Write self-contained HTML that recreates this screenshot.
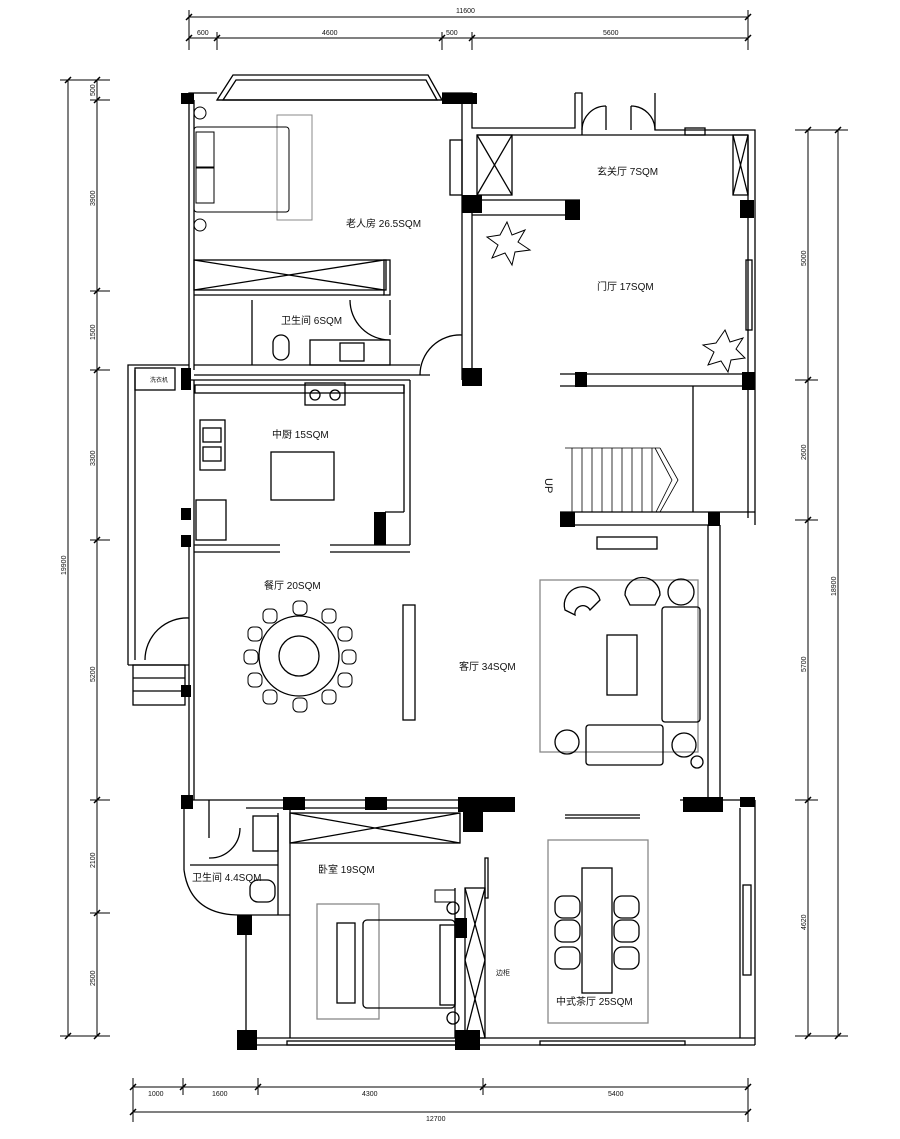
<!DOCTYPE html><html><head><meta charset="utf-8"><style>
html,body{margin:0;padding:0;background:#fff}
svg{display:block}
text{font-family:"Liberation Sans","Noto Sans CJK SC",sans-serif;fill:#111}
.d{font-size:7px}
.l{font-size:10px}
</style></head><body>
<svg width="900" height="1139" viewBox="0 0 900 1139" xmlns="http://www.w3.org/2000/svg">
<g stroke="#000" stroke-width="1" fill="none">
<!-- top dims -->
<line x1="189" y1="17" x2="748" y2="17"/>
<line x1="189" y1="38" x2="748" y2="38"/>
<g stroke-width="1.5"><line x1="186" y1="20" x2="192" y2="14"/><line x1="745" y1="20" x2="751" y2="14"/>
<line x1="186" y1="41" x2="192" y2="35"/><line x1="214" y1="41" x2="220" y2="35"/><line x1="439" y1="41" x2="445" y2="35"/><line x1="469" y1="41" x2="475" y2="35"/><line x1="745" y1="41" x2="751" y2="35"/></g>
<line x1="189" y1="10" x2="189" y2="50"/><line x1="748" y1="10" x2="748" y2="50"/><line x1="217" y1="32" x2="217" y2="50"/><line x1="442" y1="32" x2="442" y2="50"/><line x1="472" y1="32" x2="472" y2="50"/>
<!-- left dims -->
<line x1="68" y1="80" x2="68" y2="1036"/>
<line x1="97" y1="80" x2="97" y2="1036"/>
<g stroke-width="1.5"><line x1="65" y1="83" x2="71" y2="77"/><line x1="65" y1="1039" x2="71" y2="1033"/>
<line x1="94" y1="83" x2="100" y2="77"/><line x1="94" y1="103" x2="100" y2="97"/><line x1="94" y1="294" x2="100" y2="288"/><line x1="94" y1="373" x2="100" y2="367"/><line x1="94" y1="543" x2="100" y2="537"/><line x1="94" y1="803" x2="100" y2="797"/><line x1="94" y1="916" x2="100" y2="910"/><line x1="94" y1="1039" x2="100" y2="1033"/></g>
<g><line x1="60" y1="80" x2="110" y2="80"/><line x1="60" y1="1036" x2="110" y2="1036"/><line x1="90" y1="100" x2="110" y2="100"/><line x1="90" y1="291" x2="110" y2="291"/><line x1="90" y1="370" x2="110" y2="370"/><line x1="90" y1="540" x2="110" y2="540"/><line x1="90" y1="800" x2="110" y2="800"/><line x1="90" y1="913" x2="110" y2="913"/></g>
<!-- right dims -->
<line x1="838" y1="130" x2="838" y2="1036"/>
<line x1="808" y1="130" x2="808" y2="1036"/>
<g stroke-width="1.5"><line x1="835" y1="133" x2="841" y2="127"/><line x1="835" y1="1039" x2="841" y2="1033"/>
<line x1="805" y1="133" x2="811" y2="127"/><line x1="805" y1="383" x2="811" y2="377"/><line x1="805" y1="523" x2="811" y2="517"/><line x1="805" y1="803" x2="811" y2="797"/><line x1="805" y1="1039" x2="811" y2="1033"/></g>
<g><line x1="795" y1="130" x2="848" y2="130"/><line x1="795" y1="1036" x2="848" y2="1036"/><line x1="795" y1="380" x2="818" y2="380"/><line x1="795" y1="520" x2="818" y2="520"/><line x1="795" y1="800" x2="818" y2="800"/></g>
<!-- bottom dims -->
<line x1="133" y1="1087" x2="748" y2="1087"/>
<line x1="133" y1="1112" x2="748" y2="1112"/>
<g stroke-width="1.5"><line x1="130" y1="1090" x2="136" y2="1084"/><line x1="180" y1="1090" x2="186" y2="1084"/><line x1="255" y1="1090" x2="261" y2="1084"/><line x1="480" y1="1090" x2="486" y2="1084"/><line x1="745" y1="1090" x2="751" y2="1084"/><line x1="130" y1="1115" x2="136" y2="1109"/><line x1="745" y1="1115" x2="751" y2="1109"/></g>
<g><line x1="133" y1="1078" x2="133" y2="1122"/><line x1="748" y1="1078" x2="748" y2="1122"/><line x1="183" y1="1078" x2="183" y2="1095"/><line x1="258" y1="1078" x2="258" y2="1095"/><line x1="483" y1="1078" x2="483" y2="1095"/></g>
</g>
<g class="d">
<text x="456" y="13">11600</text>
<text x="197" y="35">600</text><text x="322" y="35">4600</text><text x="446" y="35">500</text><text x="603" y="35">5600</text>
<text x="148" y="1096">1000</text><text x="212" y="1096">1600</text><text x="362" y="1096">4300</text><text x="608" y="1096">5400</text>
<text x="426" y="1121">12700</text>
<text transform="translate(66,575) rotate(-90)">19900</text>
<text transform="translate(95,96) rotate(-90)">500</text>
<text transform="translate(95,206) rotate(-90)">3900</text>
<text transform="translate(95,340) rotate(-90)">1500</text>
<text transform="translate(95,466) rotate(-90)">3300</text>
<text transform="translate(95,682) rotate(-90)">5200</text>
<text transform="translate(95,868) rotate(-90)">2100</text>
<text transform="translate(95,986) rotate(-90)">2500</text>
<text transform="translate(836,596) rotate(-90)">18900</text>
<text transform="translate(806,266) rotate(-90)">5000</text>
<text transform="translate(806,460) rotate(-90)">2600</text>
<text transform="translate(806,672) rotate(-90)">5700</text>
<text transform="translate(806,930) rotate(-90)">4620</text>
</g>

<!-- WALLS -->
<g stroke="#000" stroke-width="1.3" fill="none">
<!-- top bedroom -->
<polyline points="189,370 189,93 217,93"/><line x1="194" y1="100" x2="194" y2="370"/>
<polygon points="217,100 233,75 428,75 442,100"/><polygon points="223,100 236,80 426,80 437,100"/>
<line x1="217" y1="100" x2="442" y2="100"/>
<polyline points="442,93 472,93 472,128 575,128 575,93"/>
<line x1="462" y1="100" x2="462" y2="380"/><line x1="472" y1="200" x2="472" y2="380"/>
<rect x="450" y="140" width="12" height="55"/>
<rect x="194" y="260" width="192" height="30"/><line x1="194" y1="260" x2="384" y2="290"/><line x1="194" y1="290" x2="384" y2="260"/>
<rect x="384" y="260" width="6" height="35"/>
<line x1="194" y1="295" x2="384" y2="295"/>
<line x1="252" y1="300" x2="252" y2="365"/><line x1="390" y1="300" x2="390" y2="335"/>
<path d="M350,300 A40,40 0 0 0 390,340"/>
<rect x="310" y="340" width="80" height="25"/>
<rect x="340" y="343" width="24" height="18"/>
<rect x="273" y="335" width="16" height="25" rx="8"/>
<line x1="194" y1="365" x2="420" y2="365"/><line x1="194" y1="375" x2="430" y2="375"/>
<path d="M420,375 A40,40 0 0 1 462,335"/>
<!-- entrance -->
<polyline points="575,93 582,93 582,135"/>
<path d="M582,130 A24,24 0 0 1 606,106"/><path d="M655,130 A24,24 0 0 0 631,106"/>
<line x1="606" y1="106" x2="606" y2="130"/><line x1="631" y1="106" x2="631" y2="130"/>
<polyline points="655,93 655,130 755,130 755,525"/><line x1="748" y1="135" x2="748" y2="518"/>
<line x1="477" y1="135" x2="748" y2="135"/>
<rect x="477" y="135" width="35" height="60"/><line x1="477" y1="135" x2="512" y2="195"/><line x1="512" y1="135" x2="477" y2="195"/>
<rect x="733" y="135" width="15" height="60"/><line x1="733" y1="135" x2="748" y2="195"/><line x1="748" y1="135" x2="733" y2="195"/>
<rect x="685" y="128" width="20" height="7"/>
<line x1="472" y1="200" x2="580" y2="200"/><line x1="472" y1="215" x2="580" y2="215"/>
<rect x="746" y="260" width="6" height="70"/>
<line x1="560" y1="374" x2="755" y2="374"/><line x1="560" y1="386" x2="755" y2="386"/>
<!-- stair -->
<line x1="693" y1="386" x2="693" y2="512"/>
<line x1="560" y1="512" x2="755" y2="512"/><line x1="575" y1="525" x2="715" y2="525"/>
<g stroke-width="0.8">
<line x1="565" y1="448" x2="660" y2="448"/>
<line x1="572" y1="448" x2="572" y2="512"/><line x1="582" y1="448" x2="582" y2="512"/><line x1="592" y1="448" x2="592" y2="512"/><line x1="602" y1="448" x2="602" y2="512"/><line x1="612" y1="448" x2="612" y2="512"/><line x1="622" y1="448" x2="622" y2="512"/><line x1="632" y1="448" x2="632" y2="512"/><line x1="642" y1="448" x2="642" y2="512"/><line x1="652" y1="448" x2="652" y2="512"/>
<polyline points="660,448 678,480 660,512"/><polyline points="655,448 672,480 656,512"/>
</g>
<!-- living right wall -->
<line x1="708" y1="525" x2="708" y2="800"/><line x1="720" y1="525" x2="720" y2="800"/>
<!-- kitchen -->
<line x1="189" y1="380" x2="410" y2="380"/>
<line x1="410" y1="380" x2="410" y2="545"/><line x1="404" y1="385" x2="404" y2="512"/>
<rect x="195" y="385" width="209" height="8"/>
<rect x="305" y="383" width="40" height="22"/>
<circle cx="315" cy="395" r="5"/><circle cx="335" cy="395" r="5"/>
<rect x="200" y="420" width="25" height="50"/><rect x="203" y="428" width="18" height="14"/><rect x="203" y="447" width="18" height="14"/>
<rect x="271" y="452" width="63" height="48"/>
<rect x="196" y="500" width="30" height="40"/>
<line x1="385" y1="512" x2="404" y2="512"/>
<line x1="194" y1="545" x2="280" y2="545"/><line x1="194" y1="552" x2="280" y2="552"/>
<line x1="330" y1="545" x2="410" y2="545"/><line x1="330" y1="552" x2="410" y2="552"/>
<line x1="194" y1="380" x2="194" y2="800"/><line x1="189" y1="540" x2="189" y2="800"/>
<!-- left corridor -->
<polyline points="189,365 128,365 128,665"/><line x1="135" y1="370" x2="135" y2="660"/>
<rect x="135" y="368" width="40" height="22"/>
<path d="M145,660 A42,42 0 0 1 189,618"/>
<polyline points="128,665 189,665"/>
<rect x="133" y="665" width="52" height="40"/><line x1="133" y1="678" x2="185" y2="678"/><line x1="133" y1="691" x2="185" y2="691"/>
<!-- living tv wall -->
<rect x="403" y="605" width="12" height="115"/>
<!-- lower zone -->
<line x1="189" y1="800" x2="515" y2="800"/><line x1="246" y1="808" x2="515" y2="808"/>
<line x1="565" y1="815" x2="640" y2="815"/><line x1="565" y1="818" x2="640" y2="818"/>
<line x1="680" y1="800" x2="755" y2="800"/><line x1="755" y1="800" x2="755" y2="1045"/><line x1="740" y1="808" x2="740" y2="1038"/>
<rect x="743" y="885" width="8" height="90"/>
<!-- bathroom -->
<line x1="209" y1="800" x2="209" y2="838"/><path d="M209,858 A30,30 0 0 0 240,828" />
<path d="M184,870 Q190,915 240,915"/><line x1="184" y1="800" x2="184" y2="870"/>
<rect x="253" y="816" width="25" height="35"/>
<rect x="250" y="880" width="25" height="22" rx="8"/>
<line x1="190" y1="865" x2="278" y2="865"/>
<line x1="278" y1="813" x2="278" y2="915"/><line x1="290" y1="808" x2="290" y2="1038"/>
<line x1="240" y1="915" x2="290" y2="915"/>
<!-- bedroom -->
<rect x="290" y="813" width="170" height="30"/><line x1="290" y1="813" x2="460" y2="843"/><line x1="290" y1="843" x2="460" y2="813"/>
<line x1="246" y1="915" x2="246" y2="1045"/><line x1="240" y1="1038" x2="755" y2="1038"/><line x1="240" y1="1045" x2="755" y2="1045"/>
<rect x="287" y="1041" width="170" height="4"/><rect x="540" y="1041" width="145" height="4"/>
<rect x="465" y="888" width="20" height="150"/><line x1="465" y1="888" x2="485" y2="960"/><line x1="485" y1="888" x2="465" y2="960"/><line x1="465" y1="960" x2="485" y2="1038"/><line x1="485" y1="960" x2="465" y2="1038"/>
<line x1="455" y1="888" x2="455" y2="1038"/>
<rect x="485" y="858" width="3" height="40"/>
<rect x="317" y="904" width="62" height="115" stroke="#888"/>
<rect x="337" y="923" width="18" height="80"/>
<rect x="363" y="920" width="92" height="88" rx="4"/>
<rect x="440" y="925" width="15" height="80"/>
<circle cx="453" cy="908" r="6"/><circle cx="453" cy="1018" r="6"/>
<!-- tea room -->
<rect x="548" y="840" width="100" height="183" stroke="#888"/>
<rect x="582" y="868" width="30" height="125"/>
<g><rect x="555" y="896" width="25" height="22" rx="8"/><rect x="555" y="920" width="25" height="22" rx="8"/><rect x="555" y="947" width="25" height="22" rx="8"/>
<rect x="614" y="896" width="25" height="22" rx="8"/><rect x="614" y="920" width="25" height="22" rx="8"/><rect x="614" y="947" width="25" height="22" rx="8"/></g>
<!-- living furniture -->
<rect x="540" y="580" width="158" height="172" stroke="#888"/>
<rect x="597" y="537" width="60" height="12"/>
<rect x="607" y="635" width="30" height="60"/>
<rect x="662" y="607" width="38" height="115" rx="3"/>
<rect x="586" y="725" width="77" height="40" rx="3"/>
<path d="M565,610 A17,17 0 1 1 600,600 L590,610 A8,8 0 0 0 575,615 Z"/>
<path d="M625,595 A17,17 0 1 1 660,595 L655,605 L630,605 Z"/>
<circle cx="681" cy="592" r="13"/><circle cx="567" cy="742" r="12"/><circle cx="684" cy="745" r="12"/><circle cx="697" cy="762" r="6"/>
<!-- dining -->
<circle cx="299" cy="656" r="40"/><circle cx="299" cy="656" r="20"/>
</g>
<!-- dining chairs -->
<g stroke="#000" fill="#fff" stroke-width="1">
<rect x="293" y="601" width="14" height="14" rx="5"/><rect x="293" y="698" width="14" height="14" rx="5"/>
<rect x="244" y="650" width="14" height="14" rx="5"/><rect x="342" y="650" width="14" height="14" rx="5"/>
<rect x="263" y="609" width="14" height="14" rx="5"/><rect x="322" y="609" width="14" height="14" rx="5"/>
<rect x="263" y="690" width="14" height="14" rx="5"/><rect x="322" y="690" width="14" height="14" rx="5"/>
<rect x="248" y="627" width="14" height="14" rx="5"/><rect x="338" y="627" width="14" height="14" rx="5"/>
<rect x="248" y="673" width="14" height="14" rx="5"/><rect x="338" y="673" width="14" height="14" rx="5"/>
</g>
<!-- top bedroom bed -->
<g stroke="#000" fill="none" stroke-width="1">
<rect x="277" y="115" width="35" height="105" stroke="#888"/>
<rect x="194" y="127" width="95" height="85" rx="3"/>
<rect x="196" y="132" width="18" height="35"/><rect x="196" y="168" width="18" height="35"/>
<circle cx="200" cy="113" r="6"/><circle cx="200" cy="225" r="6"/>
</g>
<!-- plants -->
<g fill="#fff" stroke="#000" stroke-width="1">
<polygon points="507,222 512,235 525,230 518,242 530,250 515,252 512,265 505,253 492,258 498,245 487,237 500,235"/>
<polygon points="725,330 730,342 743,338 736,349 745,358 731,360 728,372 721,361 708,365 714,352 703,345 716,343"/>
</g>
<!-- columns -->
<g fill="#000">
<rect x="181" y="93" width="13" height="11"/><rect x="442" y="93" width="20" height="11"/><rect x="462" y="93" width="15" height="11"/>
<rect x="462" y="195" width="20" height="18"/><rect x="565" y="200" width="15" height="20"/>
<rect x="740" y="200" width="14" height="18"/><rect x="742" y="372" width="13" height="18"/>
<rect x="462" y="368" width="20" height="18"/><rect x="575" y="372" width="12" height="15"/>
<rect x="181" y="368" width="10" height="22"/>
<rect x="181" y="508" width="10" height="12"/><rect x="181" y="535" width="10" height="12"/>
<rect x="374" y="512" width="12" height="33"/><rect x="560" y="512" width="15" height="15"/><rect x="708" y="512" width="12" height="14"/>
<rect x="181" y="685" width="10" height="12"/><rect x="181" y="795" width="12" height="14"/>
<rect x="283" y="797" width="22" height="13"/><rect x="365" y="797" width="22" height="13"/><rect x="458" y="797" width="57" height="15"/>
<rect x="463" y="812" width="20" height="20"/>
<rect x="683" y="797" width="40" height="15"/><rect x="740" y="797" width="15" height="10"/>
<rect x="237" y="915" width="15" height="20"/><rect x="237" y="1030" width="20" height="20"/>
<rect x="455" y="918" width="12" height="20"/><rect x="455" y="1030" width="25" height="20"/>
<rect x="435" y="890" width="20" height="12" fill="none" stroke="#000"/>
</g>
<!-- labels -->
<g class="l">
<text x="346" y="227">老人房 26.5SQM</text>
<text x="597" y="175">玄关厅 7SQM</text>
<text x="597" y="290">门厅 17SQM</text>
<text x="281" y="324">卫生间 6SQM</text>
<text x="272" y="438">中厨 15SQM</text>
<text x="264" y="589">餐厅 20SQM</text>
<text x="459" y="670">客厅 34SQM</text>
<text x="318" y="873">卧室 19SQM</text>
<text x="192" y="881">卫生间 4.4SQM</text>
<text x="556" y="1005">中式茶厅 25SQM</text>
<text x="496" y="975" style="font-size:7px">边柜</text>
<text x="150" y="382" style="font-size:6px">洗衣机</text>
<text transform="translate(545,478) rotate(90)" style="font-size:11px">UP</text>
</g>
</svg>
</body></html>
